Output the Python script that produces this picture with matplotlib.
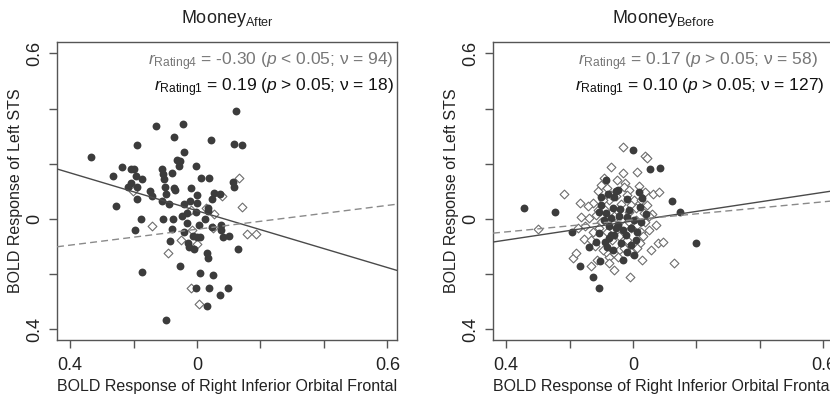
import matplotlib
matplotlib.use("Agg")
import matplotlib.pyplot as plt

plt.rcParams['font.family'] = ['Liberation Sans', 'DejaVu Sans']
plt.rcParams['mathtext.fontset'] = 'custom'
plt.rcParams['mathtext.rm'] = 'Liberation Sans'
plt.rcParams['mathtext.it'] = 'Liberation Sans:italic'

# ---- data ----
after_r4_x = [-0.334, -0.189, -0.072, 0.044, 0.117, 0.142, -0.041, -0.063, -0.054, -0.003,
              -0.057, -0.236, -0.208, -0.198, -0.265, -0.192, -0.110, -0.107, -0.079, -0.173,
              -0.104, 0.013, 0.038, 0.113, -0.208, -0.217, -0.189, -0.101, -0.072, -0.069,
              -0.019, 0.117, -0.148, 0.054, 0.072, -0.142, -0.098, 0.000, -0.189, -0.110,
              -0.022, 0.000, 0.047, -0.088, -0.041, -0.255, 0.035, -0.003, -0.031, 0.035,
              -0.047, -0.107, -0.076, -0.176, 0.025, -0.031, 0.006, 0.076, -0.079, 0.047,
              -0.195, -0.041, 0.076, -0.013, 0.000, 0.009, 0.082, 0.101, -0.085, -0.028,
              -0.025, -0.009, 0.129, 0.031, 0.035, -0.054, -0.173, 0.009, 0.050, -0.003,
              0.038, 0.098, 0.072, 0.031, -0.098, 0.123, -0.129, -0.044]
after_r4_y = [0.225, 0.268, 0.297, 0.286, 0.272, 0.268, 0.243, 0.214, 0.210, 0.192,
              0.192, 0.188, 0.181, 0.181, 0.156, 0.156, 0.181, 0.163, 0.167, 0.145,
              0.145, 0.149, 0.149, 0.134, 0.130, 0.116, 0.116, 0.116, 0.112, 0.105,
              0.112, 0.116, 0.101, 0.094, 0.091, 0.083, 0.091, 0.087, 0.072, 0.065,
              0.065, 0.058, 0.072, 0.054, 0.054, 0.047, 0.040, 0.025, 0.022, 0.029,
              0.011, 0.000, 0.000, 0.000, 0.000, -0.014, -0.022, -0.022, -0.036, -0.029,
              -0.040, -0.047, -0.040, -0.062, -0.065, -0.065, -0.065, -0.062, -0.080, -0.087,
              -0.101, -0.109, -0.109, -0.123, -0.141, -0.170, -0.192, -0.196, -0.203, -0.250,
              -0.250, -0.250, -0.275, -0.315, -0.366, 0.391, 0.337, 0.344]
after_r1_x = [-0.202, 0.132, 0.079, 0.142, -0.019, 0.028, 0.054, -0.142, -0.016, 0.050,
              0.157, 0.186, -0.050, 0.000, -0.091, -0.019, 0.006]
after_r1_y = [0.101, 0.149, 0.083, 0.043, 0.033, 0.040, 0.018, -0.025, -0.040, -0.033,
              -0.054, -0.054, -0.076, -0.091, -0.123, -0.250, -0.308]

before_r4_x = [-0.343, -0.246, -0.192, 0.000, 0.054, 0.085, -0.085, 0.123, 0.148, 0.198,
               -0.139, -0.167, 0.003, 0.019, 0.028, -0.054, -0.019, -0.041, 0.022, -0.101,
               -0.079, -0.060, -0.107, -0.085, -0.047, -0.117, -0.107, -0.126, -0.107, -0.104,
               -0.082, -0.076, -0.060, -0.031, -0.047, -0.022, -0.069, -0.091, -0.069, -0.044,
               -0.019, 0.003, 0.025, -0.076, -0.054, -0.031, -0.006, 0.013, 0.041, -0.101,
               -0.013, -0.063, -0.038, -0.006, -0.088, 0.009, -0.063, -0.019]
before_r4_y = [0.040, 0.025, -0.047, 0.250, 0.181, 0.185, 0.141, 0.065, 0.025, -0.087,
               -0.101, -0.170, -0.130, 0.098, 0.076, 0.101, 0.072, 0.036, 0.043, 0.080,
               0.091, 0.080, 0.025, 0.022, 0.105, -0.083, -0.051, -0.210, -0.250, -0.152,
               -0.101, -0.069, -0.058, -0.149, -0.022, -0.058, -0.058, -0.004, 0.004, 0.011,
               0.007, -0.004, -0.011, -0.025, -0.033, -0.040, -0.033, -0.047, 0.018, 0.051,
               0.033, 0.040, -0.087, -0.094, -0.083, -0.076, -0.112, -0.120]
before_r1_x = [-0.031, 0.038, 0.044, -0.069, -0.031, 0.013, -0.091, -0.025, -0.028, -0.110,
               -0.217, 0.038, 0.063, 0.082, -0.167, -0.126, -0.142, -0.076, -0.054, 0.003,
               -0.164, -0.139, -0.110, 0.035, 0.060, -0.299, -0.173, -0.154, -0.126, 0.025,
               0.031, 0.022, 0.079, 0.094, -0.066, -0.189, -0.180, -0.132, -0.076, -0.031,
               0.028, 0.129, -0.013, 0.009, -0.101, -0.076, -0.009, -0.069, -0.006, 0.009,
               -0.013, -0.060, -0.044, -0.060, -0.085, -0.028, -0.047, 0.050, 0.013, -0.006,
               -0.101, -0.082, -0.050, -0.013, 0.019, -0.094, -0.038, -0.019, 0.025, 0.044,
               -0.117, -0.088, -0.063, -0.038, 0.038, -0.107, -0.082, -0.044, -0.019, 0.050,
               -0.120, -0.094, -0.006, 0.013, -0.151, -0.132, 0.057, -0.060, -0.113, 0.072]
before_r1_y = [0.261, 0.228, 0.221, 0.188, 0.167, 0.170, 0.149, 0.130, 0.116, 0.101,
               0.091, 0.098, 0.091, 0.098, 0.058, 0.058, 0.047, 0.069, 0.083, 0.069,
               0.007, 0.004, 0.033, 0.022, 0.018, -0.036, -0.033, -0.072, -0.047, -0.047,
               -0.062, -0.087, -0.087, -0.083, -0.076, -0.141, -0.123, -0.170, -0.138, -0.101,
               -0.149, -0.159, -0.011, -0.004, -0.011, -0.159, -0.210, 0.087, 0.051, 0.040,
               0.025, 0.011, -0.112, -0.123, -0.120, -0.105, -0.138, 0.011, -0.022, -0.033,
               0.123, 0.112, 0.141, 0.105, 0.120, 0.069, 0.054, 0.087, 0.069, 0.051,
               0.014, 0.033, -0.018, -0.004, -0.011, -0.033, -0.047, -0.062, -0.076, -0.040,
               -0.098, -0.112, -0.120, -0.105, -0.025, -0.076, -0.112, -0.185, -0.149, -0.022]

# fitted lines: (intercept, slope)
after_fit_r4 = (0.030, -0.343)
after_fit_r1 = (-0.037, 0.144)
before_fit_r4 = (-0.007, 0.173)
before_fit_r1 = (-0.003, 0.109)

titles = ["Mooney$_{\\mathrm{After}}$", "Mooney$_{\\mathrm{Before}}$"]
stats_r4 = ["$r_{\\mathrm{Rating4}}$ = -0.30 ($p$ < 0.05; ν = 94)",
            "$r_{\\mathrm{Rating4}}$ = 0.17 ($p$ > 0.05; ν = 58)"]
stats_r1 = ["$r_{\\mathrm{Rating1}}$ = 0.19 ($p$ > 0.05; ν = 18)",
            "$r_{\\mathrm{Rating1}}$ = 0.10 ($p$ > 0.05; ν = 127)"]
tick_pos = [-0.4, -0.2, 0, 0.2, 0.4, 0.6]
tick_lbl = ["0.4", "", "0", "", "", "0.6"]

xlim = (-0.441, 0.630)
ylim = (-0.438, 0.641)

fig = plt.figure(figsize=(8.3, 3.97), dpi=100)
ax1 = fig.add_axes([0.0687, 0.1436, 0.4096, 0.7506])
ax2 = fig.add_axes([0.594, 0.1436, 0.4096, 0.7506])

panels = [
    (ax1, after_r4_x, after_r4_y, after_r1_x, after_r1_y, after_fit_r4, after_fit_r1, 0.99, 0.99),
    (ax2, before_r4_x, before_r4_y, before_r1_x, before_r1_y, before_fit_r4, before_fit_r1, 0.956, 0.974),
]

for i, (ax, x4, y4, x1, y1, f4, f1, tx4, tx1) in enumerate(panels):
    ax.scatter(x1, y1, marker='D', s=20, facecolor='white', edgecolor='#6e6e6e',
               linewidth=0.8, zorder=2)
    ax.scatter(x4, y4, marker='o', s=32, color='#3c3c3c', linewidth=0, zorder=3)
    ax.plot(xlim, [f4[0] + f4[1] * v for v in xlim], color='#4a4a4a', lw=1.0, zorder=4)
    ax.plot(xlim, [f1[0] + f1[1] * v for v in xlim], color='#8a8a8a', lw=1.0,
            ls=(0, (5, 3)), zorder=4)
    ax.set_xlim(xlim)
    ax.set_ylim(ylim)
    ax.set_xticks(tick_pos)
    ax.set_xticklabels(tick_lbl)
    ax.set_yticks(tick_pos)
    ax.set_yticklabels(tick_lbl, rotation=90, va='center')
    ax.tick_params(axis='both', length=6, width=1, color='#555555', labelsize=13,
                   labelcolor='#222222')
    ax.tick_params(axis='x', pad=6)
    ax.tick_params(axis='y', pad=4)
    for sp in ax.spines.values():
        sp.set_color('#555555')
        sp.set_linewidth(1)
    ax.set_xlabel("BOLD Response of Right Inferior Orbital Frontal", fontsize=11.5,
                  color='#222222', labelpad=4)
    ax.set_ylabel("BOLD Response of Left STS", fontsize=11.5, color='#222222', labelpad=2)
    ax.set_title(titles[i], fontsize=13, color='#222222', pad=14)
    ax.text(tx4, 0.933, stats_r4[i], transform=ax.transAxes, ha='right', va='center',
            fontsize=12.5, color='#777777')
    ax.text(tx1, 0.846, stats_r1[i], transform=ax.transAxes, ha='right', va='center',
            fontsize=12.5, color='#111111')

fig.savefig("out.png", dpi=100)
